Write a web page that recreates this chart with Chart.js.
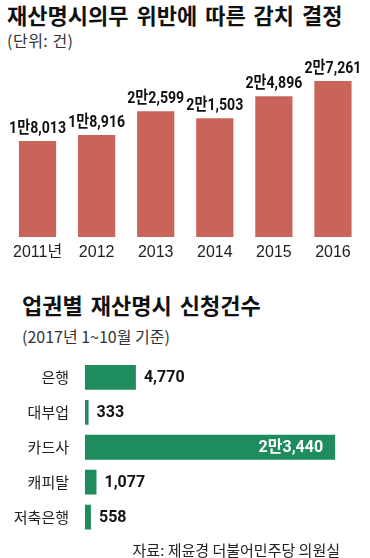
<!DOCTYPE html>
<html>
<head>
<meta charset="utf-8">
<script src="https://cdn.jsdelivr.net/npm/chart.js@4/dist/chart.umd.min.js"></script>
<style>
  html, body { margin: 0; padding: 0; background: #fff; }
  body { width: 370px; height: 558px; position: relative; overflow: hidden; font-family: "Noto Sans CJK KR", sans-serif; color: #111; }
  .t { position: absolute; white-space: nowrap; line-height: 1; }
  .title { font-weight: bold; }
  .sub { color: #333; }
  canvas { position: absolute; left: 0; }
</style>
</head>
<body>
<div class="t title" style="left:7px; top:3px; font-size:22px; word-spacing:3px;">재산명시의무 위반에 따른 감치 결정</div>
<div class="t sub" style="left:7px; top:32px; font-size:16px; letter-spacing:0.5px;">(단위: 건)</div>
<div style="position:absolute; left:0; top:50px; width:370px; height:218px;"><canvas id="top"></canvas></div>

<div class="t title" style="left:22px; top:293px; font-size:22px; word-spacing:3px;">업권별 재산명시 신청건수</div>
<div class="t sub" style="left:22px; top:328px; font-size:16px;">(2017년 1~10월 기준)</div>
<div style="position:absolute; left:0; top:342.5px; width:370px; height:208.5px;"><canvas id="bottom"></canvas></div>

<div class="t" style="right:30px; top:542px; font-size:15px; color:#222;">자료: 제윤경 더불어민주당 의원실</div>

<script>
const years = ['2011년', '2012', '2013', '2014', '2015', '2016'];
const rulings = [18013, 18916, 22599, 21503, 24896, 27261];

const sectors = ['은행', '대부업', '카드사', '캐피탈', '저축은행'];
const requests = [4770, 333, 23440, 1077, 558];

const RED = '#c9645b';
const GREEN = '#1f8c5e';
const numFont = 'Roboto, "Noto Sans CJK KR", sans-serif';

// 1만8,013 style
function fmt(v) {
  const man = Math.floor(v / 10000);
  const rest = v % 10000;
  if (man === 0) return v.toLocaleString('en-US');
  return man + '만' + rest.toLocaleString('en-US');
}

const topLabels = {
  id: 'topLabels',
  afterDatasetsDraw(chart) {
    const ctx = chart.ctx;
    const meta = chart.getDatasetMeta(0);
    ctx.font = 'bold 17px ' + numFont;
    ctx.fillStyle = '#111';
    ctx.textAlign = 'center';
    ctx.textBaseline = 'alphabetic';
    meta.data.forEach((bar, i) => {
      ctx.save();
      ctx.translate(bar.x, bar.y - 8);
      ctx.scale(0.83, 1); // narrow digits like the print font
      ctx.fillText(fmt(rulings[i]), 0, 0);
      ctx.restore();
    });
  }
};

const sideLabels = {
  id: 'sideLabels',
  afterDatasetsDraw(chart) {
    const ctx = chart.ctx;
    const meta = chart.getDatasetMeta(0);
    ctx.save();
    ctx.font = 'bold 16px ' + numFont;
    ctx.textBaseline = 'middle';
    meta.data.forEach((bar, i) => {
      const len = bar.x - bar.base;
      if (len > 100) {
        ctx.fillStyle = '#fff';
        ctx.textAlign = 'right';
        ctx.fillText(fmt(requests[i]), bar.x - 12, bar.y + 1);
      } else {
        ctx.fillStyle = '#111';
        ctx.textAlign = 'left';
        ctx.fillText(fmt(requests[i]), bar.x + 8, bar.y + 1);
      }
    });
    ctx.restore();
  }
};

new Chart(document.getElementById('top'), {
  type: 'bar',
  data: {
    labels: years,
    datasets: [{
      data: rulings,
      backgroundColor: RED,
      barPercentage: 0.63,
      categoryPercentage: 1
    }]
  },
  options: {
    responsive: true,
    maintainAspectRatio: false,
    animation: false,
    layout: { padding: { top: 20, left: 8, right: 7.5, bottom: 1 } },
    plugins: { legend: { display: false }, tooltip: { enabled: false } },
    scales: {
      x: {
        grid: { display: false, drawTicks: false },
        border: { display: false },
        afterFit(scale) { scale.height = 30; },
        ticks: { color: '#222', padding: 6, maxRotation: 0, font: { size: 16, family: '"Liberation Sans", "Noto Sans CJK KR", sans-serif' } }
      },
      y: { display: false, min: 3200, max: 28956 }
    }
  },
  plugins: [topLabels]
});

new Chart(document.getElementById('bottom'), {
  type: 'bar',
  data: {
    labels: sectors,
    datasets: [{
      data: requests,
      backgroundColor: GREEN,
      barPercentage: 0.71,
      categoryPercentage: 1
    }]
  },
  options: {
    indexAxis: 'y',
    responsive: true,
    maintainAspectRatio: false,
    animation: false,
    layout: { padding: { top: 0, left: 0, right: 10, bottom: 0 } },
    plugins: { legend: { display: false }, tooltip: { enabled: false } },
    scales: {
      y: {
        grid: { display: false },
        border: { display: false },
        afterFit(scale) { scale.width = 85; },
        ticks: { color: '#222', padding: 8, font: { size: 15, family: '"Noto Sans CJK KR", sans-serif' } }
      },
      x: { display: false, min: 0, max: 25770 }
    }
  },
  plugins: [sideLabels]
});
</script>
</body>
</html>
